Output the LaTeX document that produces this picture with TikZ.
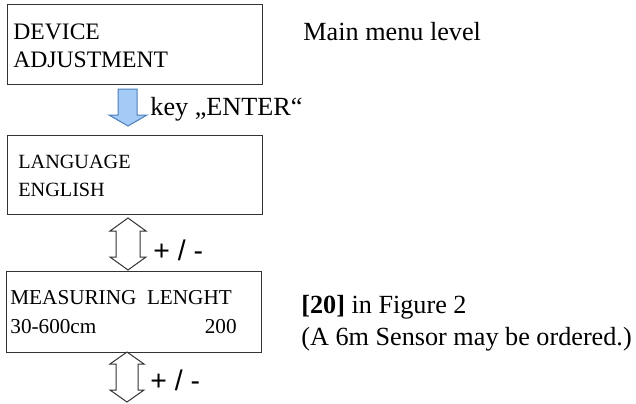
\documentclass[tikz,border=0pt]{standalone}
\usepackage{fontspec}
\setmainfont{Liberation Serif}
\newfontfamily\keyfont{Liberation Sans}
\usetikzlibrary{positioning}
\definecolor{KeyBlue}{HTML}{A4CBF5}
\definecolor{KeyEdge}{HTML}{4A7EBB}
\definecolor{LineGray}{HTML}{333333}

\tikzset{
  menubox/.style={draw=LineGray,line width=0.5pt,minimum width=127.5pt,minimum height=40pt,inner sep=0pt},
  boxtext/.style={anchor=base west,inner sep=0pt,font=\fontsize{10.6}{13}\selectfont},
  note/.style={anchor=base west,inner sep=0pt,font=\fontsize{13.1}{15}\selectfont},
  pm/.style={anchor=base west,inner sep=0pt,font=\keyfont\fontsize{14.2}{16}\selectfont}
}

\begin{document}
\begin{tikzpicture}[x=0.5pt,y=-0.5pt]
    \useasboundingbox (0,0) rectangle (636,403);

    % menu boxes
    \node[menubox] (device) at (134.5,44) {};
    \node[boxtext,font=\fontsize{11.8}{13}\selectfont] (devA) at (13,39) {DEVICE};
    \node[boxtext,font=\fontsize{11.8}{13}\selectfont] (devB) at (13,67) {ADJUSTMENT};

    \node[menubox,minimum height=39.5pt] (lang) at (134.5,174.5) {};
    \node[boxtext,font=\fontsize{10.1}{12}\selectfont] (langA) at (18,168) {LANGUAGE};
    \node[boxtext,font=\fontsize{10.1}{12}\selectfont] (langB) at (18,196) {ENGLISH};

    \node[menubox,minimum height=40.5pt] (meas) at (134,311.5) {};
    \node[boxtext] (measA) at (10,304) {MEASURING\ \ LENGHT};
    \node[boxtext] (measB) at (10,333) {30-600cm};
    \node[boxtext,anchor=base east] (measC) at (237,333) {200};

    % side notes
    \node[note] (main) at (303,40) {Main menu level};
    \node[note] (fig) at (301,313) {\textbf{[20]} in Figure 2};
    \node[note] (order) at (301,345) {(A 6m Sensor may be ordered.)};

    % ENTER key arrow
    \filldraw[fill=KeyBlue,draw=KeyEdge,line width=0.5pt]
      (118,89) -- (137,89) -- (137,115) -- (147,115) -- (128,126)
      -- (109,115) -- (118,115) -- cycle;
    \node[note] (enter) at (150,115) {key „ENTER“};

    % +/- arrows
    \draw[LineGray,line width=0.5pt,fill=white]
      (128,218) -- (146,231) -- (140,231) -- (140,257) -- (146,257)
      -- (128,270) -- (110,257) -- (116,257) -- (116,231) -- (110,231) -- cycle;
    \node[pm] (pmA) at (153,260) {+ / -};

    \draw[LineGray,line width=0.5pt,fill=white]
      (127,352) -- (144,364) -- (138,364) -- (138,390) -- (144,390)
      -- (127,402) -- (110,390) -- (116,390) -- (116,364) -- (110,364) -- cycle;
    \node[pm] (pmB) at (150,390) {+ / -};
\end{tikzpicture}
\end{document}
